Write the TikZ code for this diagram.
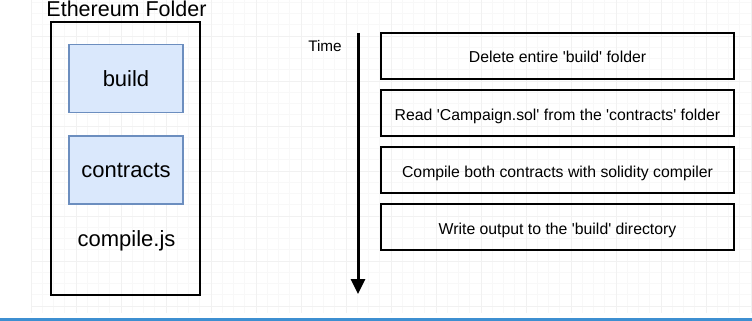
\documentclass[tikz,border=0pt]{standalone}
\usepackage{fontspec}
\setmainfont{Liberation Sans}[Ligatures=TeXOff]
\usepackage{tikz}
\usetikzlibrary{arrows.meta}
\definecolor{folderFill}{HTML}{DAE8FC}
\definecolor{folderEdge}{HTML}{6C8EBF}
\definecolor{gridMajor}{HTML}{F1F1F1}
\definecolor{gridMinor}{HTML}{F8F8F8}
\definecolor{barBlue}{HTML}{3D8FD1}
\tikzset{
  subfolder/.style={draw=folderEdge,fill=folderFill,line width=1.5pt,minimum width=114pt,
    minimum height=68pt,inner sep=0pt,text height=15pt,text depth=0pt,font=\fontsize{22}{24}\selectfont},
  stepbox/.style={draw,line width=2pt,minimum width=353pt,minimum height=46pt,inner sep=0pt,
    text height=14pt,text depth=0pt,font=\fontsize{15.8}{18}\selectfont}
}

\begin{document}
\begin{tikzpicture}[x=1pt,y=-1pt]
\useasboundingbox (0,0) rectangle (752,321);
\fill[white] (0,0) rectangle (752,321);
% faint canvas grid
\foreach \x in {31,42.25,...,752} \draw[gridMinor,line width=0.6pt] (\x,0)--(\x,313);
\foreach \y in {2.25,13.5,...,313} \draw[gridMinor,line width=0.6pt] (31,\y)--(752,\y);
\foreach \x in {31,76,...,752} \draw[gridMajor,line width=0.8pt] (\x,0)--(\x,313);
\foreach \y in {36,81,...,313} \draw[gridMajor,line width=0.8pt] (31,\y)--(752,\y);
% folder
\node[font=\fontsize{21.5}{24}\selectfont,anchor=base] (title) at (126.5,16.5) {Ethereum Folder};
\node[draw,line width=2.2pt,minimum width=149pt,minimum height=273pt,inner sep=0pt] (folder) at (125.5,158.5) {};
\node[subfolder] (build) at (126,78.5) {build};
\node[subfolder] (contracts) at (126,170) {contracts};
\node[font=\fontsize{22}{24}\selectfont,anchor=base] (compilejs) at (126.5,246) {compile.js};
% time line
\node[font=\fontsize{15.3}{18}\selectfont,anchor=base] (time) at (325,52) {Time};
\coordinate (tStart) at (358,33);
\coordinate (tEnd) at (358,294);
\draw[line width=3pt,-{Triangle[length=15pt,width=14pt]}] (tStart)--(tEnd);
\foreach \i/\txt in {0/{Delete entire 'build' folder},
                     1/{Read 'Campaign.sol' from the 'contracts' folder},
                     2/{Compile both contracts with solidity compiler},
                     3/{Write output to the 'build' directory}}
  \node[stepbox] (step\i) at (557.5,{56+57*\i}) {\txt};
\fill[barBlue] (0,317.5) rectangle (752,321);
\end{tikzpicture}
\end{document}
